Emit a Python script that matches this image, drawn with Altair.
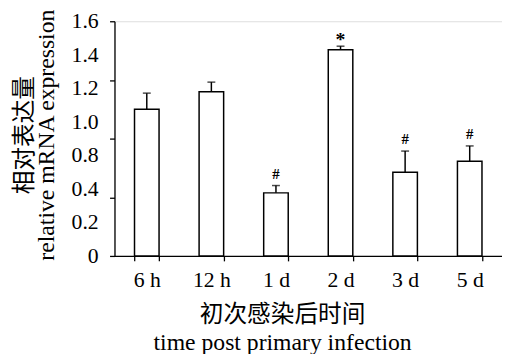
import altair as alt
import pandas as pd

categories = ["6 h", "12 h", "1 d", "2 d", "3 d", "5 d"]
means = [1.00, 1.12, 0.43, 1.405, 0.57, 0.645]
errors = [0.11, 0.065, 0.05, 0.025, 0.145, 0.105]
marks = ["", "", "#", "*", "#", "#"]
y_tick_labels = ["0", "0.2", "0.4", "0.8", "1.0", "1.2", "1.4", "1.6"]
y_max = 1.6

df = pd.DataFrame({
    "cat": categories,
    "mean": means,
    "upper": [m + e for m, e in zip(means, errors)],
    "mark": marks,
})
lab = pd.DataFrame({
    "label": y_tick_labels,
    "pos": [i * y_max / (len(y_tick_labels) - 1) for i in range(len(y_tick_labels))],
})

SERIF = "Liberation Serif, Times New Roman, Noto Sans CJK SC"

xscale = alt.Scale(domain=categories, paddingInner=0.62, paddingOuter=0.31)
yscale = alt.Scale(domain=[0, y_max], nice=False)

x_enc = alt.X("cat:N", scale=xscale, sort=categories, axis=alt.Axis(
    title=["初次感染后时间", "time post primary infection"],
    titleFont=SERIF, titleFontSize=24, titleFontWeight="normal",
    titleLineHeight=28, titleX=170, titleY=48, titleBaseline="top",
    titleColor="black",
    labelFont=SERIF, labelFontSize=22, labelAngle=0, labelColor="black",
    labelPadding=9, tickBand="extent", tickSize=5, tickColor="black",
    domainColor="black", domainWidth=1.3, tickWidth=1.3,
))
y_enc = alt.Y("mean:Q", scale=yscale, axis=alt.Axis(
    values=[0, 0.2, 0.4, 0.6, 0.8, 1.0, 1.2, 1.4, 1.6],
    labels=False, grid=False, tickSize=5, tickColor="black",
    domainColor="black", domainWidth=1.3, tickWidth=1.3,
    title=["相对表达量", "relative mRNA expression"],
    titleFont=SERIF, titleFontSize=24, titleFontWeight="normal",
    titleLineHeight=22, titleX=-79, titleY=115, titleAlign="center",
    titleColor="black",
))

bars = alt.Chart(df).mark_bar(fill="white", stroke="black", strokeWidth=1.5).encode(
    x=x_enc, y=y_enc
)
stems = alt.Chart(df).mark_rule(color="black", strokeWidth=1.5).encode(
    x=alt.X("cat:N", scale=xscale, sort=categories),
    y=alt.Y("mean:Q", scale=yscale),
    y2="upper:Q",
)
caps = alt.Chart(df).mark_tick(color="black", size=8, thickness=1.5).encode(
    x=alt.X("cat:N", scale=xscale, sort=categories),
    y=alt.Y("upper:Q", scale=yscale),
)
hashes = alt.Chart(df).transform_filter(alt.datum.mark == "#").mark_text(
    font=SERIF, fontSize=15, fontWeight="bold", baseline="bottom", dy=-4, color="black"
).encode(
    x=alt.X("cat:N", scale=xscale, sort=categories),
    y=alt.Y("upper:Q", scale=yscale),
    text="mark:N",
)
stars = alt.Chart(df).transform_filter(alt.datum.mark == "*").mark_text(
    font=SERIF, fontSize=20, fontWeight="bold", baseline="middle", dy=-6, color="black"
).encode(
    x=alt.X("cat:N", scale=xscale, sort=categories),
    y=alt.Y("upper:Q", scale=yscale),
    text="mark:N",
)
ylabels = alt.Chart(lab).mark_text(font=SERIF, fontSize=22, align="right",
                                   baseline="middle", color="black").encode(
    x=alt.value(-16),
    y=alt.Y("pos:Q", scale=yscale),
    text="label:N",
)

chart = alt.layer(bars, stems, caps, hashes, stars, ylabels).properties(
    width=393, height=238,
    autosize=alt.AutoSizeParams(type="none"),
    padding={"left": 108, "top": 11, "right": 0, "bottom": 97},
).configure_view(stroke=None).configure(background="white")

chart.save("out.html", embed_options={"renderer": "svg", "actions": False})
